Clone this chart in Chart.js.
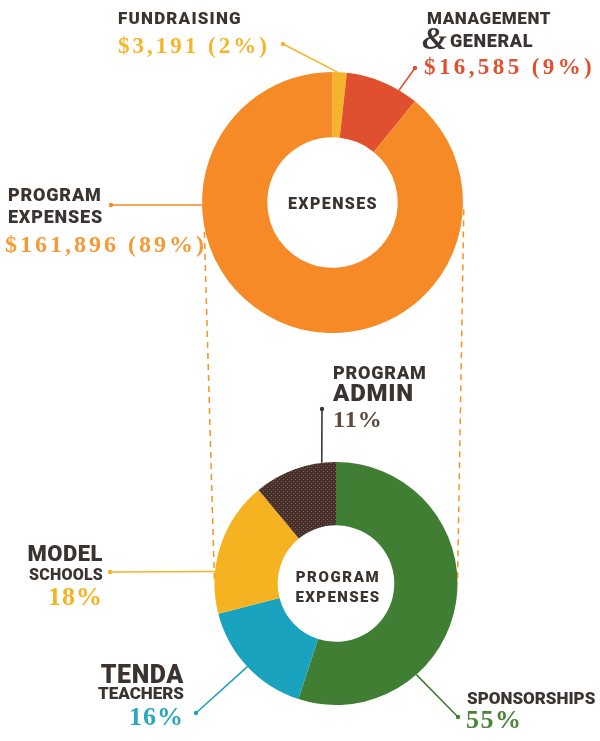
<!DOCTYPE html>
<html>
<head>
<meta charset="utf-8">
<script src="https://cdn.jsdelivr.net/npm/chart.js@4.4.1/dist/chart.umd.min.js"></script>
<style>
  html, body { margin: 0; padding: 0; background: #fff; }
  #wrap { position: relative; width: 600px; height: 741px; overflow: hidden; }
  #wrap canvas { position: absolute; left: 0; top: 0; }
  .lbl { position: absolute; white-space: nowrap; line-height: 1; }
  .head { font-family: Roboto, "Liberation Sans", sans-serif; font-weight: 900; color: #3a3330; }
  .num { font-family: "Liberation Serif", "DejaVu Serif", serif; font-weight: 700; }
  .mid { font-family: Roboto, "Liberation Sans", sans-serif; font-weight: 900; color: #3a3330; }
</style>
</head>
<body>
<div id="wrap">
  <canvas id="gastos" width="600" height="741"></canvas>
  <canvas id="programa" width="600" height="741"></canvas>
</div>
<script>
// Datos
const gastosCategorias = ["Fundraising", "Management & General", "Program Expenses"];
const gastosValores = [3191, 16585, 161896];
const gastosColores = ["#f4b52a", "#e0502e", "#f68a26"];

const programaCategorias = ["Sponsorships", "Tenda Teachers", "Model Schools", "Program Admin"];
const programaValores = [55, 16, 18, 11];
const programaColores = ["#3f7e33", "#1aa3bf", "#f5b322", "#3f3530"];

const totalGastos = gastosValores.reduce((a, b) => a + b, 0);
const pct = (v) => Math.round((v / totalGastos) * 100);
const dinero = (v) => "$" + v.toLocaleString("en-US");

// textura de puntos para "program admin"
function patronPuntos(fondo, punto) {
  const c = document.createElement("canvas");
  c.width = 4; c.height = 4;
  const g = c.getContext("2d");
  g.fillStyle = fondo; g.fillRect(0, 0, 4, 4);
  g.fillStyle = punto; g.fillRect(1, 1, 1, 1); g.fillRect(3, 3, 1, 1);
  return g.createPattern(c, "repeat");
}

function puntoArco(arc, t) {
  const a = arc.startAngle + t * (arc.endAngle - arc.startAngle);
  return { x: arc.x + arc.outerRadius * Math.cos(a), y: arc.y + arc.outerRadius * Math.sin(a) };
}

// ángulo en grados, medido desde arriba en sentido horario
function puntoBorde(chart, grados, extra) {
  const arc = chart.getDatasetMeta(0).data[0];
  const a = (grados - 90) * Math.PI / 180;
  const r = arc.outerRadius + (extra || 0);
  return { x: arc.x + r * Math.cos(a), y: arc.y + r * Math.sin(a) };
}

function dibujarGuias(chart, guias, colores) {
  const ctx = chart.ctx;
  const arcs = chart.getDatasetMeta(0).data;
  ctx.save();
  guias.forEach((g) => {
    const p = puntoArco(arcs[g.i], g.t);
    ctx.strokeStyle = colores[g.i];
    ctx.fillStyle = colores[g.i];
    ctx.lineWidth = 1.6;
    ctx.beginPath();
    ctx.moveTo(g.punto[0], g.punto[1]);
    ctx.lineTo(p.x, p.y);
    ctx.stroke();
    ctx.beginPath();
    ctx.arc(g.punto[0], g.punto[1], 2.2, 0, Math.PI * 2);
    ctx.fill();
  });
  ctx.restore();
}

const guiasGastos = [
  { i: 0, t: 0.35, punto: [283, 44] },
  { i: 1, t: 0.74, punto: [415, 68] },
  { i: 2, t: 0.716, punto: [111, 205] },
];
const guiasPrograma = [
  { i: 0, t: 0.7, punto: [458, 717] },
  { i: 1, t: 0.5, punto: [196, 713] },
  { i: 2, t: 0.31, punto: [110, 572] },
  { i: 3, t: 0.83, punto: [322, 409] },
];

let graficoGastos = null;

function crearGraficoGastos() {
  const ctx = document.getElementById("gastos").getContext("2d");
  graficoGastos = new Chart(ctx, {
    type: "doughnut",
    data: {
      labels: gastosCategorias,
      datasets: [{ data: gastosValores, backgroundColor: gastosColores, borderWidth: 0 }],
    },
    options: {
      responsive: false,
      animation: false,
      cutout: "50%",
      layout: { padding: { left: 202, right: 137, top: 72, bottom: 408 } },
      plugins: { legend: { display: false }, tooltip: { enabled: false } },
      events: [],
    },
    plugins: [{
      id: "guiasGastos",
      afterDatasetsDraw(chart) { dibujarGuias(chart, guiasGastos, gastosColores); },
    }],
  });
}

function crearGraficoPrograma() {
  const ctx = document.getElementById("programa").getContext("2d");
  const colores = programaColores.slice();
  colores[3] = patronPuntos("#3f3530", "#b8452c");
  new Chart(ctx, {
    type: "doughnut",
    data: {
      labels: programaCategorias,
      datasets: [{ data: programaValores, backgroundColor: colores, borderWidth: 0 }],
    },
    options: {
      responsive: false,
      animation: false,
      cutout: "48%",
      layout: { padding: { left: 214.5, right: 142.5, top: 462, bottom: 36 } },
      plugins: { legend: { display: false }, tooltip: { enabled: false } },
      events: [],
    },
    plugins: [{
      id: "guiasPrograma",
      beforeDatasetsDraw(chart) {
        // líneas discontinuas que unen las dos donas
        const c = chart.ctx;
        const pares = [[257, 270], [93, 90]];
        c.save();
        c.strokeStyle = "#f7941e";
        c.lineWidth = 1.5;
        c.setLineDash([6, 5]);
        pares.forEach(([a, b]) => {
          const p1 = puntoBorde(graficoGastos, a, 1);
          const p2 = puntoBorde(chart, b, 0);
          c.beginPath();
          c.moveTo(p1.x, p1.y);
          c.lineTo(p2.x, p2.y);
          c.stroke();
        });
        c.restore();
      },
      afterDatasetsDraw(chart) { dibujarGuias(chart, guiasPrograma, programaColores); },
    }],
  });
}

// Etiquetas como texto real
function etiqueta(texto, x, y, clase, size, color, extra) {
  const d = document.createElement("div");
  d.className = "lbl " + clase;
  d.textContent = texto;
  d.style.fontSize = size + "px";
  if (color) d.style.color = color;
  const e = extra || {};
  d.style.letterSpacing = (e.ls || 0) + "px";
  if (e.italic) d.style.fontStyle = "italic";
  d.style.top = y + "px";
  if (e.align === "right") {
    d.style.right = (600 - x) + "px";
  } else if (e.align === "center") {
    d.style.left = (x - 150) + "px";
    d.style.width = "300px";
    d.style.textAlign = "center";
  } else {
    d.style.left = x + "px";
  }
  document.getElementById("wrap").appendChild(d);
}

function generarEtiquetas() {
  const g = gastosValores;
  const p = programaValores;
  // dona superior
  etiqueta("FUNDRAISING", 118, 10, "head", 17, null, { ls: 1.2 });
  etiqueta(dinero(g[0]) + " (" + pct(g[0]) + "%)", 118, 34, "num", 23, gastosColores[0], { ls: 3 });
  etiqueta("MANAGEMENT", 427, 10, "head", 17, null, { ls: 0.6 });
  etiqueta("&", 422, 22, "num", 32, "#3a3330", { italic: true });
  etiqueta("GENERAL", 450, 32, "head", 18, null, { ls: 0.6 });
  etiqueta(dinero(g[1]) + " (" + pct(g[1]) + "%)", 424, 55, "num", 23, gastosColores[1], { ls: 3.4 });
  etiqueta("PROGRAM", 8, 186, "head", 18, null, { ls: 0.8 });
  etiqueta("EXPENSES", 8, 208, "head", 18, null, { ls: 0.8 });
  etiqueta(dinero(g[2]) + " (" + pct(g[2]) + "%)", 5, 232, "num", 24, "#f59a36", { ls: 3 });
  etiqueta("EXPENSES", 333, 196, "mid", 16, null, { ls: 1.4, align: "center" });
  // dona inferior
  etiqueta("PROGRAM", 333, 364, "head", 18, null, { ls: 0.8 });
  etiqueta("ADMIN", 333, 381, "head", 24, null, { ls: 0.8 });
  etiqueta(p[3] + "%", 333, 407, "num", 24, "#5c4a3a", { ls: 1 });
  etiqueta("MODEL", 103, 543, "head", 22, null, { ls: 0.5, align: "right" });
  etiqueta("SCHOOLS", 103, 567, "head", 16, null, { ls: 0.2, align: "right" });
  etiqueta(p[2] + "%", 103, 584, "num", 26, programaColores[2], { ls: 1, align: "right" });
  etiqueta("TENDA", 184, 662, "head", 25, null, { ls: 0.6, align: "right" });
  etiqueta("TEACHERS", 184, 685, "head", 17, null, { ls: 0, align: "right" });
  etiqueta(p[1] + "%", 184, 704, "num", 26, "#2aa7c1", { ls: 1, align: "right" });
  etiqueta("SPONSORSHIPS", 467, 690, "head", 17, null, { ls: 0 });
  etiqueta(p[0] + "%", 466, 707, "num", 26, "#4a8437", { ls: 1.5 });
  etiqueta("PROGRAM", 338, 570, "mid", 15, null, { ls: 1.6, align: "center" });
  etiqueta("EXPENSES", 338, 590, "mid", 15, null, { ls: 1.4, align: "center" });
}

document.addEventListener("DOMContentLoaded", () => {
  crearGraficoGastos();
  crearGraficoPrograma();
  generarEtiquetas();
});
</script>
</body>
</html>
